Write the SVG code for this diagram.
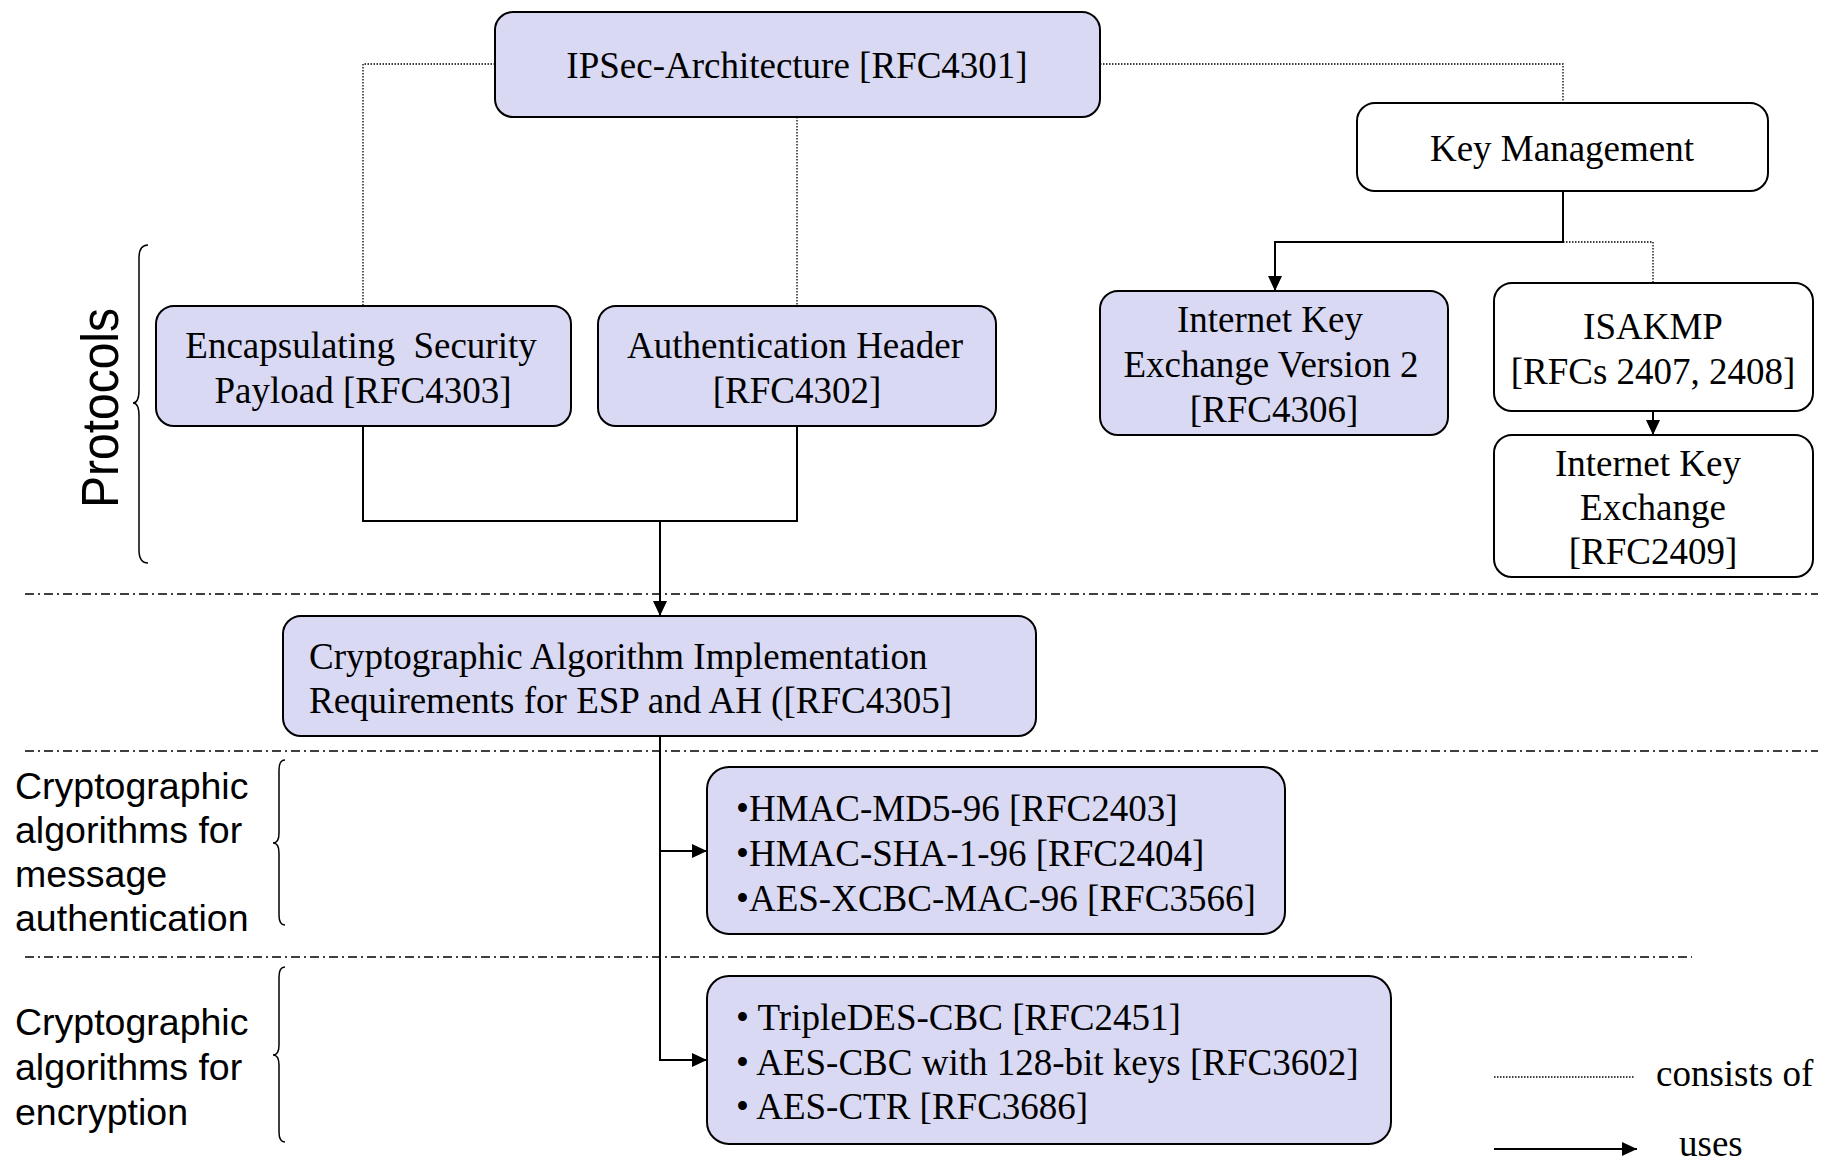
<svg xmlns="http://www.w3.org/2000/svg" width="1827" height="1164" viewBox="0 0 1827 1164">
<style>
.box{fill:#D9D9F4;stroke:#000;stroke-width:2}
.wbox{fill:#fff;stroke:#000;stroke-width:2}
.t{font-family:"Liberation Serif","Times New Roman",serif;font-size:37px;fill:#000}
.c{text-anchor:middle}
.s{font-family:"Liberation Sans",Arial,sans-serif;font-size:37.5px;fill:#000}
.dot{fill:none;stroke:#000;stroke-width:1.3;stroke-dasharray:1.5 1.5}
.sol{fill:none;stroke:#000;stroke-width:2}
.sep{fill:none;stroke:#000;stroke-width:1.3;stroke-dasharray:9 4 2 4}
.brace{fill:none;stroke:#000;stroke-width:1.5}
</style>
<defs>
<marker id="ah" markerUnits="userSpaceOnUse" markerWidth="16" markerHeight="14" refX="15" refY="7" orient="auto">
<path d="M0,0 L15,7 L0,14 Z" fill="#000"/>
</marker>
</defs>

<g id="separators">
<line class="sep" x1="25" y1="594" x2="1818" y2="594"/>
<line class="sep" x1="25" y1="751" x2="1818" y2="751"/>
<line class="sep" x1="25" y1="957" x2="1692" y2="957"/>
</g>

<g id="connectors">
<path class="dot" d="M495,64 H363 V306"/>
<path class="dot" d="M797,117 V306"/>
<path class="dot" d="M1100,64 H1563 V103"/>
<path class="dot" d="M1563,242 H1653 V283"/>
<path class="sol" d="M1563,191 V242 H1275 V291" marker-end="url(#ah)"/>
<path class="sol" d="M1653,411 V435" marker-end="url(#ah)"/>
<path class="sol" d="M363,426 V521 H797 V426"/>
<path class="sol" d="M660,521 V616" marker-end="url(#ah)"/>
<path class="sol" d="M660,736 V1060 H707" marker-end="url(#ah)"/>
<path class="sol" d="M660,851 H707" marker-end="url(#ah)"/>
</g>

<g id="ipsec">
<rect class="box" x="495" y="12" width="605" height="105" rx="18"/>
<text class="t c" x="797" y="78">IPSec-Architecture [RFC4301]</text>
</g>

<g id="keymgmt">
<rect class="wbox" x="1357" y="103" width="411" height="88" rx="18"/>
<text class="t c" x="1562" y="161">Key Management</text>
</g>

<g id="esp">
<rect class="box" x="156" y="306" width="415" height="120" rx="18"/>
<text class="t c" x="361" y="358" xml:space="preserve">Encapsulating  Security</text>
<text class="t c" x="363" y="403">Payload [RFC4303]</text>
</g>

<g id="ah-node">
<rect class="box" x="598" y="306" width="398" height="120" rx="18"/>
<text class="t c" x="795" y="358">Authentication Header</text>
<text class="t c" x="797" y="403">[RFC4302]</text>
</g>

<g id="ikev2">
<rect class="box" x="1100" y="291" width="348" height="144" rx="18"/>
<text class="t c" x="1270" y="332">Internet Key</text>
<text class="t c" x="1271" y="377">Exchange Version 2</text>
<text class="t c" x="1274" y="422">[RFC4306]</text>
</g>

<g id="isakmp">
<rect class="wbox" x="1494" y="283" width="319" height="128" rx="18"/>
<text class="t c" x="1653" y="339">ISAKMP</text>
<text class="t c" x="1653" y="384">[RFCs 2407, 2408]</text>
</g>

<g id="ike">
<rect class="wbox" x="1494" y="435" width="319" height="142" rx="18"/>
<text class="t c" x="1648" y="476">Internet Key</text>
<text class="t c" x="1653" y="520">Exchange</text>
<text class="t c" x="1653" y="564">[RFC2409]</text>
</g>

<g id="crypto-req">
<rect class="box" x="283" y="616" width="753" height="120" rx="18"/>
<text class="t" x="309" y="669">Cryptographic Algorithm Implementation</text>
<text class="t" x="309" y="713">Requirements for ESP and AH ([RFC4305]</text>
</g>

<g id="mac-algs">
<rect class="box" x="707" y="767" width="578" height="167" rx="22"/>
<text class="t" x="736" y="821">•HMAC-MD5-96 [RFC2403]</text>
<text class="t" x="736" y="866">•HMAC-SHA-1-96 [RFC2404]</text>
<text class="t" x="736" y="911">•AES-XCBC-MAC-96 [RFC3566]</text>
</g>

<g id="enc-algs">
<rect class="box" x="707" y="976" width="684" height="168" rx="22"/>
<text class="t" x="736" y="1030">• TripleDES-CBC [RFC2451]</text>
<text class="t" x="736" y="1075">• AES-CBC with 128-bit keys [RFC3602]</text>
<text class="t" x="736" y="1119">• AES-CTR [RFC3686]</text>
</g>

<g id="protocols-label">
<path class="brace" d="M148,245 Q139,245 139,258 L139,390 Q139,403 133,403 Q139,403 139,416 L139,550 Q139,563 148,563"/>
<text class="s" transform="translate(118,408) rotate(-90)" text-anchor="middle" style="font-size:51px" textLength="200" lengthAdjust="spacingAndGlyphs">Protocols</text>
</g>

<g id="mac-label">
<path class="brace" d="M285,760 Q279,760 279,770 L279,833 Q279,843 273,843 Q279,843 279,853 L279,915 Q279,925 285,925"/>
<text class="s" x="15" y="799">Cryptographic</text>
<text class="s" x="15" y="843">algorithms for</text>
<text class="s" x="15" y="887">message</text>
<text class="s" x="15" y="931">authentication</text>
</g>

<g id="enc-label">
<path class="brace" d="M285,967 Q279,967 279,977 L279,1045 Q279,1055 273,1055 Q279,1055 279,1065 L279,1132 Q279,1142 285,1142"/>
<text class="s" x="15" y="1035">Cryptographic</text>
<text class="s" x="15" y="1080">algorithms for</text>
<text class="s" x="15" y="1125">encryption</text>
</g>

<g id="legend">
<line class="dot" x1="1494" y1="1077" x2="1634" y2="1077"/>
<text class="t" x="1656" y="1086">consists of</text>
<line class="sol" x1="1494" y1="1149" x2="1637" y2="1149" marker-end="url(#ah)"/>
<text class="t" x="1679" y="1156">uses</text>
</g>
</svg>
